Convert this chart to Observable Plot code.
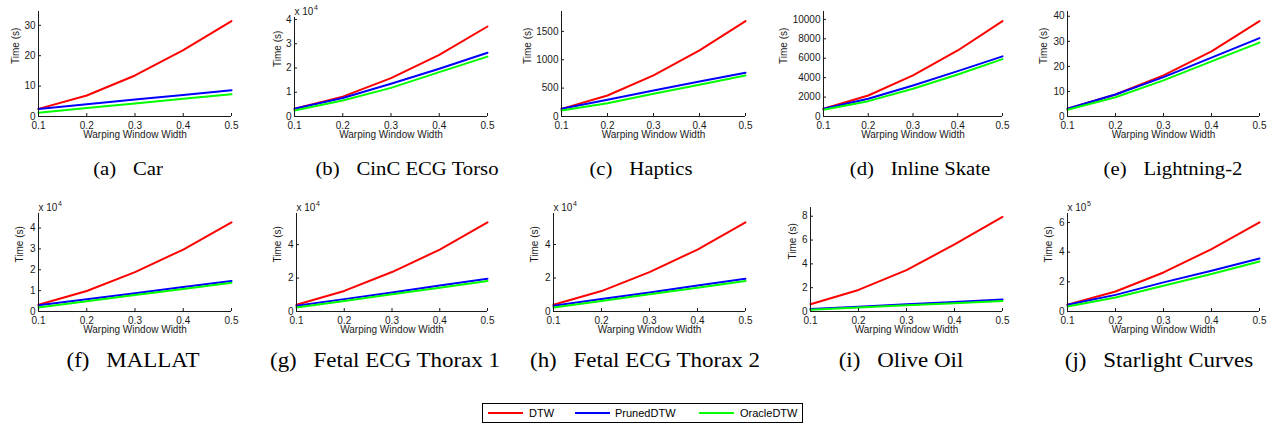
<!DOCTYPE html>
<html>
<head>
<meta charset="utf-8">
<script src="https://cdn.jsdelivr.net/npm/d3@7"></script>
<script src="https://cdn.jsdelivr.net/npm/@observablehq/plot@0.6"></script>
<style>
html, body { margin: 0; padding: 0; background: #fff; }
body { width: 1273px; height: 425px; overflow: hidden; position: relative; }
.panel { position: absolute; }
.panel svg { overflow: visible; max-width: none !important; }
.cap { position: absolute; font-family: "Liberation Serif", serif; white-space: nowrap;
       transform: translateX(-50%) scaleX(1.12); color: #000; }
.cap .nm { margin-left: 15px; }
#legend { position: absolute; left: 482px; top: 403px; width: 321px; height: 20px; box-sizing: border-box;
          border: 1px solid #000; background: #fff; font-family: "Liberation Sans", Arial, sans-serif; font-size: 11px; color: #000; }
#legend .ln { position: absolute; top: 8px; width: 35px; height: 2px; }
#legend .tx { position: absolute; top: 2px; line-height: 14px; }
</style>
</head>
<body>
<script>
// ---- data ----
const widths = [0.1, 0.2, 0.3, 0.4, 0.5];
const series = ["DTW", "PrunedDTW", "OracleDTW"];
const colors = ["#ff0000", "#0000ff", "#00ff00"];
const letters = ["a", "b", "c", "d", "e", "f", "g", "h", "i", "j"];
const datasets = ["Car", "CinC ECG Torso", "Haptics", "Inline Skate", "Lightning-2",
                  "MALLAT", "Fetal ECG Thorax 1", "Fetal ECG Thorax 2", "Olive Oil", "Starlight Curves"];
const exponents = [0, 4, 0, 0, 0, 4, 4, 4, 0, 5];
const yTicks = [
  [0, 10, 20, 30],
  [0, 1, 2, 3, 4],
  [0, 500, 1000, 1500],
  [0, 2000, 4000, 6000, 8000, 10000],
  [0, 10, 20, 30, 40],
  [0, 1, 2, 3, 4],
  [0, 2, 4],
  [0, 2, 4],
  [0, 2, 4, 6, 8],
  [0, 2, 4, 6]
];
// times in seconds, one row per dataset, one value per window width
const dtwTimes = [
  [2.5, 6.9, 13.5, 21.8, 31.4],
  [3200, 8200, 15800, 25400, 37100],
  [135, 370, 724, 1165, 1682],
  [790, 2165, 4227, 6800, 9830],
  [3.1, 8.8, 16.4, 26.0, 38.1],
  [3200, 9800, 18900, 29700, 42700],
  [4000, 12300, 23600, 37000, 53300],
  [4000, 12200, 23500, 37000, 53200],
  [0.61, 1.81, 3.48, 5.63, 7.94],
  [45000, 135000, 263000, 420000, 600000]
];
const prunedTimes = [
  [2.5, 4.0, 5.6, 7.1, 8.6],
  [3200, 7600, 13500, 19700, 26300],
  [135, 294, 459, 618, 770],
  [790, 1820, 3200, 4670, 6190],
  [3.1, 8.8, 15.7, 23.5, 31.3],
  [3000, 5900, 8800, 11700, 14600],
  [3400, 7400, 11400, 15500, 19600],
  [3400, 7400, 11400, 15500, 19600],
  [0.2, 0.4, 0.6, 0.8, 1.0],
  [45000, 112000, 196000, 274000, 357000]
];
const oracleTimes = [
  [1.2, 2.8, 4.3, 5.8, 7.3],
  [2500, 6600, 11800, 18300, 24700],
  [106, 235, 400, 559, 724],
  [690, 1580, 2850, 4330, 5910],
  [2.7, 7.7, 14.4, 22.0, 29.5],
  [1900, 4900, 7900, 10800, 13800],
  [2400, 6300, 10300, 14200, 18200],
  [2400, 6300, 10300, 14200, 18200],
  [0.14, 0.33, 0.52, 0.70, 0.89],
  [34000, 94000, 173000, 252000, 337000]
];

// ---- layout (page pixels): frame left, right, top, bottom ----
const frames = [
  [38, 231, 11, 116], [294, 487, 17, 116], [561, 745, 11, 116], [823, 1002, 11, 116], [1067, 1259, 11, 116],
  [38, 231, 212.7, 310.7], [296, 487, 212.7, 310.7], [553, 745, 212.7, 310.7], [810, 1002, 206.7, 310.7], [1067, 1259, 212.7, 310.7]
];
const yLabelOffsets = [23, 17, 34, 40, 24, 19, 19, 19, 18, 19];
const captionCenters = [127.5, 406.7, 640.5, 919.7, 1173.3, 132.5, 385, 645, 900.8, 1159];
const captionSizes = [18.5, 18.5, 18.5, 18.5, 18.5, 20.5, 20.5, 20.5, 20.5, 20.5];
const captionBaselines = [175, 175, 175, 175, 175, 367, 367, 367, 367, 367];

const ink = "#1a1a1a";
const mL = 50, mR = 14, mT = 22, mB = 36;

function makePanel(i) {
  const [x0, x1, yt, yb] = frames[i];
  const div = 10 ** exponents[i];
  const rows = [];
  [dtwTimes, prunedTimes, oracleTimes].forEach((arr, s) => {
    arr[i].forEach((t, k) => rows.push({series: series[s], w: widths[k], t: t / div}));
  });
  const ymax = 1.1 * d3.max(dtwTimes[i]) / div;
  const marks = [
    Plot.line(rows, {x: "w", y: "t", stroke: "series", strokeWidth: 2, z: "series"}),
    Plot.ruleX([widths[0]], {stroke: ink, strokeWidth: 1}),
    Plot.ruleY([0], {stroke: ink, strokeWidth: 1}),
    Plot.axisX({ticks: widths, tickSize: -3, tickPadding: 8.5, tickFormat: d => d.toFixed(1),
                label: null, fontSize: 10, stroke: ink, fill: ink}),
    Plot.axisY({ticks: yTicks[i], tickSize: -3, tickPadding: 6, tickFormat: d => String(d),
                label: null, fontSize: 10, stroke: ink, fill: ink}),
    Plot.text(["Warping Window Width"], {frameAnchor: "bottom", dy: 21.5, text: d => d, fontSize: 10, fill: ink}),
    Plot.text(["Time (s)"], {frameAnchor: "left", dx: -yLabelOffsets[i], rotate: -90, text: d => d, fontSize: 10, fill: ink})
  ];
  if (exponents[i] > 0) {
    marks.push(Plot.text(["x 10"], {frameAnchor: "top-left", textAnchor: "start", lineAnchor: "bottom",
                                    dy: -3, text: d => d, fontSize: 10, fill: ink}));
    marks.push(Plot.text([String(exponents[i])], {frameAnchor: "top-left", textAnchor: "start", lineAnchor: "bottom",
                                    dx: 19.5, dy: -8, text: d => d, fontSize: 7, fill: ink}));
  }
  const W = x1 - x0 + mL + mR, H = yb - yt + mT + mB;
  const svg = Plot.plot({
    width: W, height: H,
    marginLeft: mL, marginRight: mR, marginTop: mT, marginBottom: mB,
    x: {domain: [widths[0], widths[widths.length - 1]]},
    y: {domain: [0, ymax]},
    color: {domain: series, range: colors},
    style: {fontFamily: "'Liberation Sans', Arial, sans-serif", fontSize: "10px", color: ink, background: "transparent", overflow: "visible"},
    marks
  });
  const holder = document.createElement("div");
  holder.className = "panel";
  holder.style.left = (x0 - mL) + "px";
  holder.style.top = (yt - mT) + "px";
  holder.style.width = W + "px";
  holder.style.height = H + "px";
  holder.appendChild(svg);
  document.body.appendChild(holder);

  const fs = captionSizes[i];
  const cap = document.createElement("div");
  cap.className = "cap";
  cap.style.fontSize = fs + "px";
  cap.style.lineHeight = fs + "px";
  cap.style.left = captionCenters[i] + "px";
  cap.style.top = (captionBaselines[i] - 0.8375 * fs) + "px";
  const a = document.createElement("span");
  a.textContent = "(" + letters[i] + ")";
  const b = document.createElement("span");
  b.className = "nm";
  b.textContent = datasets[i];
  cap.appendChild(a); cap.appendChild(b);
  document.body.appendChild(cap);
}

for (let i = 0; i < datasets.length; i++) makePanel(i);

// legend
const legend = document.createElement("div");
legend.id = "legend";
const lineLefts = [5, 92, 216], textLefts = [46, 132, 257];
series.forEach((s, k) => {
  const ln = document.createElement("div");
  ln.className = "ln"; ln.style.left = lineLefts[k] + "px"; ln.style.background = colors[k];
  const tx = document.createElement("div");
  tx.className = "tx"; tx.style.left = textLefts[k] + "px"; tx.textContent = s;
  legend.appendChild(ln); legend.appendChild(tx);
});
document.body.appendChild(legend);
</script>
</body>
</html>
